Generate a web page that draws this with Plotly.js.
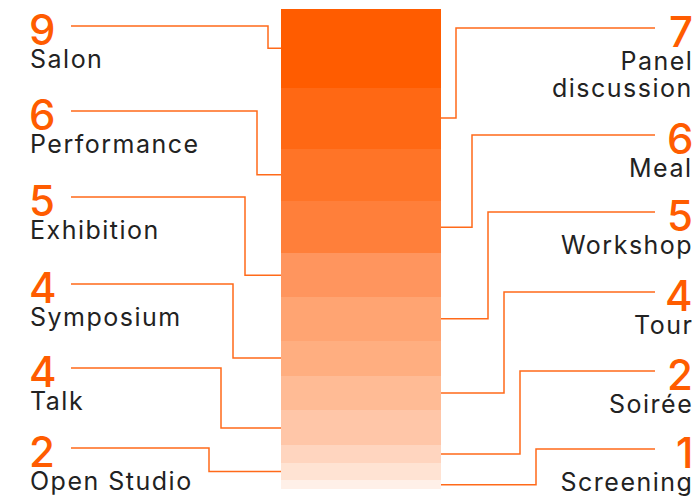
<!DOCTYPE html>
<html>
<head>
<meta charset="utf-8">
<script src="https://cdn.plot.ly/plotly-3.0.1.min.js"></script>
<style>
html,body{margin:0;padding:0;background:#fff;}
#chart{width:697px;height:498px;}
</style>
</head>
<body>
<div id="chart"></div>
<script>
// ---- data ----
const categories = ['Salon', 'Panel discussion', 'Performance', 'Meal', 'Exhibition', 'Workshop',
                    'Symposium', 'Tour', 'Talk', 'Soirée', 'Open Studio', 'Screening'];
const values = [9, 7, 6, 6, 5, 5, 4, 4, 4, 2, 2, 1];

// ---- style / layout constants ----
const colors = ['#FF5C00', '#FF6814', '#FF7427', '#FF7F3A', '#FF955E', '#FFA472',
                '#FFAE80', '#FFBB95', '#FFC6A8', '#FFD5BF', '#FFE3D3', '#FFF0E8'];
const sides = ['left', 'right', 'left', 'right', 'left', 'right', 'left', 'right', 'left', 'right', 'left', 'right'];
const leftLineY = [26, 111, 197, 284, 368, 448];
const rightLineY = [28, 135, 212, 292, 371, 449];
const leftElbowX = [268, 257, 245, 233, 221, 209];
const rightElbowX = [456, 472, 488, 504, 520, 536];

const W = 697, H = 498;
const barTop = 9, barBottom = 489, barLeft = 281, barRight = 441;
const total = values.reduce((a, b) => a + b, 0);
const pxPerUnit = (barBottom - barTop) / total;
const toUnits = py => (py - barTop) / pxPerUnit;

const traces = values.map((v, i) => ({
  type: 'bar', x: [(barLeft + barRight) / 2], y: [v], width: barRight - barLeft,
  marker: {color: colors[i], line: {width: 0}}, name: categories[i], hoverinfo: 'skip', showlegend: false
}));

const shapes = [], annotations = [];
let cum = 0, li = 0, ri = 0;
const lineColor = '#FF6A1A';
const numFont = {family: 'Inter, sans-serif', size: 42, color: '#FF5C00', weight: 500};
const nameFont = {family: 'Inter, sans-serif', size: 25, color: '#222222', weight: 400};
values.forEach((v, i) => {
  const mid = cum + v / 2;
  cum += v;
  const left = sides[i] === 'left';
  const ly = left ? leftLineY[li] : rightLineY[ri];
  const ex = left ? leftElbowX[li] : rightElbowX[ri];
  if (left) li++; else ri++;
  const yu = toUnits(ly);
  let path;
  if (left) path = `M 71,${yu} H ${ex} V ${mid} H ${barLeft}`;
  else path = `M ${barRight},${mid} H ${ex} V ${yu} H 655`;
  shapes.push({type: 'path', path: path, xref: 'x', yref: 'y', line: {color: lineColor, width: 1.5}});
  const xa = left ? 'left' : 'right';
  annotations.push({x: left ? 28 : 694, y: toUnits(ly + 3), xref: 'x', yref: 'y', text: String(v), showarrow: false,
                    xanchor: xa, align: xa, yanchor: 'middle', font: numFont, borderpad: 0});
  const name = categories[i];
  const lines = name.length > 12 ? [name.slice(0, name.indexOf(' ')), name.slice(name.indexOf(' ') + 1)] : [name];
  lines.forEach((t, k) => {
    annotations.push({x: left ? 29 : 694, y: toUnits(ly + 33 + k * 27), xref: 'x', yref: 'y', text: t, showarrow: false,
                      xanchor: xa, align: xa, yanchor: 'middle', font: nameFont, borderpad: 0, name: 'lbl'});
  });
});

const layout = {
  width: W, height: H, margin: {l: 0, r: 0, t: 0, b: 0}, paper_bgcolor: '#fff', plot_bgcolor: '#fff',
  barmode: 'stack', bargap: 0,
  xaxis: {range: [0, W], visible: false, fixedrange: true},
  yaxis: {range: [toUnits(H), toUnits(0)], visible: false, fixedrange: true},
  shapes: shapes, annotations: annotations, showlegend: false
};
Plotly.newPlot('chart', traces, layout, {displayModeBar: false, staticPlot: true}).then(gd => {
  // the reference typeface is wider: add a little letter spacing to the name labels
  const ann = gd.layout.annotations;
  gd.querySelectorAll('.annotation').forEach((node, idx) => {
    if (ann[idx] && ann[idx].name === 'lbl') {
      const txt = node.querySelector('text');
      if (txt) txt.style.letterSpacing = '1.5px';
    }
  });
});
</script>
</body>
</html>
